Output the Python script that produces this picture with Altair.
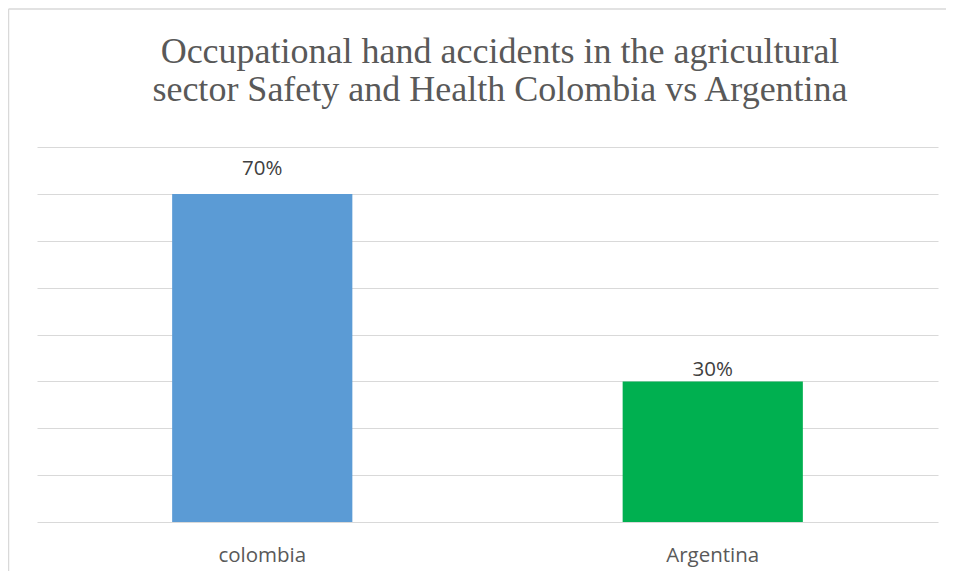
import altair as alt
import pandas as pd

countries = ["colombia", "Argentina"]
shares = [0.70, 0.30]
bar_colors = ["#5B9BD5", "#00B050"]
title_lines = [
    "Occupational hand accidents in the agricultural",
    "sector Safety and Health Colombia vs Argentina",
]
grid_values = [0, 0.1, 0.2, 0.3, 0.4, 0.5, 0.6, 0.7, 0.8]

df = pd.DataFrame({"country": countries, "share": shares, "color": bar_colors})
one = pd.DataFrame({"k": [0]})

x = alt.X(
    "country:N",
    sort=countries,
    scale=alt.Scale(paddingInner=0.6, paddingOuter=0.3),
    axis=alt.Axis(
        title=None, domain=False, ticks=False, labelAngle=0,
        labelFont="Open Sans", labelFontSize=20.5, labelColor="#595959",
        labelPadding=23,
    ),
)
y = alt.Y(
    "share:Q",
    scale=alt.Scale(domain=[0, 0.8], nice=False),
    axis=alt.Axis(
        title=None, values=grid_values, labels=False, ticks=False,
        domain=False, grid=True, gridColor="#d9d9d9", gridWidth=1,
    ),
)

frame_left = alt.Chart(one).mark_rule(color="#d9d9d9", strokeWidth=1.5).encode(
    x=alt.value(-28.5), y=alt.value(-138), y2=alt.value(800)
)
frame_top = alt.Chart(one).mark_rule(color="#d9d9d9", strokeWidth=1.5).encode(
    x=alt.value(-28.5), x2=alt.value(1200), y=alt.value(-138)
)

title = alt.Chart(one).mark_text(
    text=title_lines, font="Liberation Serif", fontSize=36, color="#595959",
    align="center", baseline="alphabetic", lineHeight=38,
).encode(x=alt.value(463), y=alt.value(-84))

bars = alt.Chart(df).mark_bar().encode(
    x=x, y=y, color=alt.Color("color:N", scale=None)
)

label_style = dict(font="Open Sans", fontSize=20.5, color="#404040",
                   align="center", baseline="alphabetic")
label_hi = alt.Chart(df).transform_filter(alt.datum.share > 0.5).mark_text(
    dy=-19, **label_style
).encode(x=x, y=y, text=alt.Text("share:Q", format=".0%"))
label_lo = alt.Chart(df).transform_filter(alt.datum.share <= 0.5).mark_text(
    dy=-5, **label_style
).encode(x=x, y=y, text=alt.Text("share:Q", format=".0%"))

chart = alt.layer(frame_left, frame_top, title, bars, label_hi, label_lo).properties(
    width=901, height=375,
    padding={"left": 29, "top": 139, "right": 8, "bottom": 49},
    autosize=alt.AutoSizeParams(type="none"),
).configure_view(stroke=None)

chart.save("out.html", embed_options={"renderer": "svg", "actions": False})
